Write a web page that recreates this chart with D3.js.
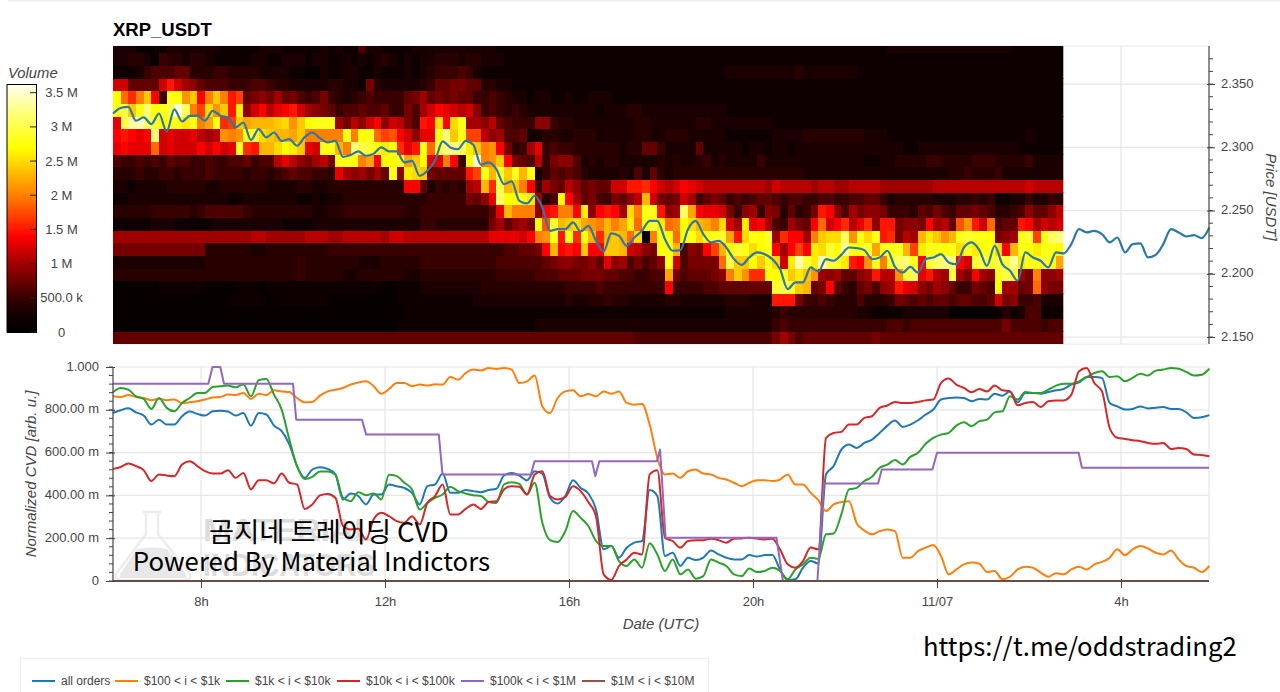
<!DOCTYPE html>
<html><head><meta charset="utf-8">
<script src="https://cdn.jsdelivr.net/npm/d3@7"></script>
<style>
html,body{margin:0;padding:0;background:#fff;overflow:hidden}
svg{display:block}
text{font-family:"Liberation Sans",Arial,sans-serif}
</style></head><body>
<svg id="c" width="1280" height="692"></svg>
<script>
// ---------- DATA ----------
const startHour = 6.087, endHour = 29.913, stepHours = 1 / 6;
const priceStep = 0.01, priceBase = 2.1445;
// volume per cell in units of 100 k, base-36 digit per 10-minute column; first entry = lowest price row
const volumeRows = [
"7777777777 7777777777 7777777777 7777777777 7777777777 7777777777 7777777766 6666666666 6666668a86 7777777778 7777777777 7777777777 7777",
"1111111111 1111111111 1111111111 1111111222 2222222222 2222233333 3333333333 3333333333 3333335655 5555555555 5665666666 6666668666 6566",
"1111111111 1111111111 1111111111 1111111122 2222222222 2222222222 2222222222 2222222222 3333334544 4444444332 2223333331 1111124236 6222",
"1111111111 1111122222 1222222211 1111111222 2222222333 3333333334 3344544333 3344333333 444333fff8 5565444644 4587676776 77667c8955 6333",
"1111112222 2211112221 2222222222 2222211222 3333333344 4444444445 5556555555 55e5555667 777777tuto n78e754786 9afdc98a97 55876raa78 j988",
"4444444444 4444444444 4444544444 3344444433 4444444444 5555566677 7888776655 66m8677789 kolggrrsoq ola9a779af bbltvdfbat a8ea9suta8 k99a",
"3333333333 3344444444 4444544444 4433344444 5555555555 6666667899 8897d9a686 79sc68888j uoorospcqy tqyutqfels ksvwsetvww ectusutxqs stsm",
"8888888888 8844444433 4444444455 5555555555 5555555555 566778enef eoeeooncb9 8rsn698ehn rtsprseaeh eqptrxsrtm sssnhqssrs psqrspensr qssr",
"aaaaaaaaaa aaaaaaaabb aaaaabbbaa bbbbbaccbb bbbbbbbbbd dddceklsfs gsngnonjp1 ksrjrsprst mfpsrtagee akoppvlsps fg8banqoln stssr89ast hsvw",
"2222233322 2223333333 3322223333 3333333333 5544444448 a79a8ritno pmlknkmqjr tqjkrpnmkp caqdea65a8 7ejcegbdg9 ff8998eab7 ilfcj677fe acbc",
"4444455555 4566666544 4444443344 5555555544 5555555557 dnkkk9efkk eq9efeapks sf9avmeddc 859a598474 58fe96a899 8555476865 7787644569 779b",
"2233333333 3333322333 3333223233 4444444444 455555879d vrrsqa46re a7865879bn c878ca5787 5656776566 5566556677 5344444333 4454522335 3354",
"3323333444 4433444444 3333443344 44444444ee 735454abng unoke5a87b 97877ccffg ecbcedcbbb bbbbbacbbb babbaabbbb aaaaaaabbb bbbbbbbbbc bbbb",
"4445445545 5565555455 456766554d a9a8a7s9qp o87777fhsn tosns35767 6433334363 7434444444 4444444444 3333333333 3333333334 4544453333 3333",
"6556565766 5565566756 6bdb98ab8s srkmerrsmo rddke5rzkl oe876b5899 6343443333 3434334534 3333533333 3333333322 3344445544 4455544445 3333",
"dedddjcdcc cececdsgfn nprqodcssn kwutrqrgdf sjtwwvqokl e845ad5655 4444443447 7533337333 3323323323 3333333333 3332233333 3333333322 2222",
"efedewcdcc dbablklstp onnmokkkkk skrsjhiec9 ddswoshhb9 a667234433 4443333344 3344433333 2222223333 4444444433 3222222222 2222222223 2222",
"duxyvtrssq skmsghomnn noplorsssa 8b9ce9cb86 fepepsaa9b 7655599544 3333333344 3333334433 3333332222 2222222222 2222222222 2222222222 2222",
"suoswrsuzv khplofq9ce bdefca9875 6676675586 acedcbc956 5454333333 3332333443 3333333333 2222222222 2222222222 2222222222 2222222222 2222",
"rjgkoe5srl oekokfh789 8a78656854 3456555578 a787877556 5433233223 2233322222 2222222222 2222222222 2222222222 2222222222 2222222222 2222",
"cc7777cfca 9766655566 5443333344 3328433333 4577887744 3322222222 2222222222 2222222222 2222222222 2222222222 2222222222 2222222222 2222",
"2223566677 4445544443 3332211322 3322322232 3455565322 2222222222 2222222222 2222222222 3333333334 3333333222 2222222222 2222222222 2222",
"3344315443 4432222233 2233323322 3232343232 3344434433 3222222222 2222222222 2222222222 2222222222 2222222222 2222222222 2222222222 2222",
"3331122333 3333222223 3322222323 2263322223 3333333333 2222222222 2222222222 2222222222 2222222222 2222222222 2333333333 3333333222 2222"
];
const priceValues = [
2.3267,2.331,2.332,2.321,2.3236,2.3183,2.3267,2.3125,2.33,2.3204,2.3249,2.325,2.321,2.3288,2.325,2.3236,2.3157,2.3196,2.3057,2.3144,
2.3078,2.3117,2.305,2.3065,2.3012,2.308,2.3117,2.3072,2.3038,2.305,2.2925,2.294,2.2967,2.2933,2.295,2.2999,2.2967,2.2967,2.288,2.2893,
2.2775,2.2815,2.2893,2.3046,2.2999,2.2985,2.3051,2.302,2.2862,2.288,2.2827,2.2709,2.273,2.2577,2.2556,2.2617,2.2524,2.234,2.2353,2.2353,
2.2406,2.2335,2.2379,2.2261,2.2177,2.2319,2.23,2.2221,2.2287,2.234,2.2419,2.2419,2.2274,2.2182,2.2187,2.2353,2.2419,2.2314,2.2248,2.2261,
2.2208,2.2116,2.2071,2.2129,2.2169,2.2155,2.2116,2.2037,2.1879,2.1932,2.1932,2.205,2.2018,2.2116,2.2103,2.215,2.2208,2.2203,2.2187,2.2116,
2.2129,2.2182,2.2055,2.201,2.2055,2.201,2.2116,2.2129,2.2155,2.209,2.2076,2.2208,2.2248,2.2187,2.2063,2.2221,2.2076,2.2024,2.1945,2.2169,
2.2129,2.2103,2.205,2.2169,2.2161,2.2235,2.2353,2.2327,2.234,2.2314,2.2248,2.2287,2.2169,2.2235,2.224,2.2129,2.215,2.2235,2.2353,2.2327,
2.2295,2.2306,2.2282,2.2366];
// normalized CVD in thousandths, one value per 10 minutes
const allOrders = [
785,798,807,788,773,731,754,731,731,770,792,781,773,793,795,792,773,785,725,785,778,726,700,638,537,482,521,532,524,498,381,409,397,358,404,404,451,443,435,412,358,443,
451,502,412,412,425,420,415,425,431,493,505,493,470,513,502,389,362,397,471,435,409,334,148,163,109,155,179,187,425,397,117,132,70,109,98,109,143,124,109,101,101,121,114,121,121,54,5,8,62,93,82,498,537,614,638,
622,645,661,692,726,750,720,731,751,778,801,848,855,858,855,840,851,848,875,866,886,835,879,879,875,883,891,897,918,928,953,953,949,832,816,801,804,816,806,810,813,804,804,788,762,765,775];
const tier100 = [
863,860,869,860,855,845,852,845,848,832,835,840,848,858,860,871,869,879,851,875,869,891,886,883,855,835,837,866,886,894,902,918,928,933,910,875,897,925,925,910,918,913,
919,918,953,941,972,988,984,995,991,995,988,925,933,960,816,785,855,886,891,863,874,863,886,875,886,832,824,827,731,575,498,502,482,513,521,502,498,482,474,459,443,459,471,471,467,474,498,451,451,412,378,327,358,369,373,
270,236,218,233,241,233,109,109,140,156,168,117,31,54,78,86,81,42,47,8,20,54,67,62,39,20,36,31,54,67,54,78,89,109,148,121,148,163,152,132,124,143,101,70,62,42,70];
const tier1k = [
882,902,894,863,851,804,855,809,793,832,855,879,879,907,910,913,905,918,863,938,944,871,801,661,537,477,487,512,512,498,389,373,415,401,409,381,496,490,459,428,334,365,
389,404,440,420,409,401,397,369,365,451,462,454,404,459,272,191,182,233,327,295,257,187,163,163,93,70,101,62,176,124,47,101,31,54,11,23,101,86,70,31,23,58,42,47,62,47,8,54,78,109,104,218,222,311,428,
435,467,487,529,544,565,544,580,599,641,669,684,692,726,742,723,747,754,788,793,863,848,883,879,879,894,913,922,922,933,953,972,980,953,957,933,949,969,960,983,988,995,992,977,960,964,992];
const tier10k = [
524,533,549,537,518,467,498,493,490,544,560,537,513,502,502,518,482,505,428,471,471,456,502,459,451,337,358,400,407,389,257,241,244,194,288,319,303,280,272,303,264,365,
397,451,311,311,337,358,337,369,373,428,443,440,404,498,513,397,381,393,443,420,369,303,31,5,70,101,132,124,498,518,202,187,156,187,191,191,198,191,179,198,199,202,198,194,198,148,78,62,93,156,148,669,692,697,731,
731,762,770,809,820,837,832,832,837,844,848,925,946,918,902,882,897,886,913,891,886,821,832,837,813,840,844,844,871,980,995,925,886,715,669,664,658,653,645,641,645,617,622,617,591,589,583];
// tier $100k-$1M moves in steps, so it keeps its own time stamps
const tier100kHours = [6.087,8.16,8.25,8.42,8.5,10,10.07,11.5,11.59,13.17,13.25,15.17,15.25,16.5,16.57,16.66,17.91,17.98,18.1,20.51,20.65,21.4,21.54,22.72,22.8,23.9,24,27.08,27.15,29.913];
const tier100kValues = [922,922,1000,1000,922,922,754,754,684,684,498,498,560,560,490,560,560,614,202,202,0,0,456,456,521,521,599,599,529,529];
const tier1MHours = [6.087,29.913];
const tier1MValues = [0,0];

const seriesNames = ["all orders","$100 < i < $1k","$1k < i < $10k","$10k < i < $100k","$100k < i < $1M","$1M < i < $10M"];
const seriesColors = ["#1f77b4","#ff7f0e","#2ca02c","#d62728","#9467bd","#8c564b"];
const timeTicks = [8,12,16,20,24,28];
const timeTickLabels = ["8h","12h","16h","20h","11/07","4h"];
const priceTicks = [2.15,2.2,2.25,2.3,2.35];
const priceMinorTicks = d3.range(2.15,2.38,0.01);
const cvdTicks = [0,200,400,600,800,1000];
const cvdTickLabels = ["0","200.00 m","400.00 m","600.00 m","800.00 m","1.000"];
const cvdMinorTicks = d3.range(0,1001,40);
const volumeTicks = [0,.5,1,1.5,2,2.5,3,3.5];
const volumeTickLabels = ["0","500.0 k","1 M","1.5 M","2 M","2.5 M","3 M","3.5 M"];

// ---------- LAYOUT ----------
const svg = d3.select("#c");
const L = 113, R = 1209, T1 = 46, B1 = 344, T2 = 367, B2 = 581;
const x = d3.scaleLinear().domain([startHour,endHour]).range([L,R]);
const yP = d3.scaleLinear().domain([priceBase, priceBase + 298/1265]).range([B1,T1]);
const yC = d3.scaleLinear().domain([0,1000]).range([B2,T2]);
const yV = d3.scaleLinear().domain([0,3.62]).range([332,84.5]);
const heat = d3.scaleLinear().domain([0,.25,.5,1,1.4,2,2.7,3.1,3.62])
  .range(["#000000","#120000","#380000","#a00000","#ff0000","#ff8000","#ffff00","#ffff60","#fffff0"]).clamp(true);
const gridCol = "#e6e6e6", axisCol = "#444", textCol = "#444";

svg.append("rect").attr("x",8).attr("y",0).attr("width",1272).attr("height",1.5).attr("fill","#eeeeee");

const defs = svg.append("defs");
defs.append("clipPath").attr("id","top").append("rect").attr("x",L).attr("y",T1).attr("width",950.3).attr("height",B1-T1);

svg.append("text").attr("x",L).attr("y",36).attr("font-size",18.5).attr("font-weight","bold").attr("fill","#000").text("XRP_USDT");

const g1 = svg.append("g");
g1.selectAll("line.v").data(timeTicks).join("line").attr("class","v").attr("x1",d=>x(d)).attr("x2",d=>x(d)).attr("y1",T1).attr("y2",B1).attr("stroke",gridCol).attr("stroke-width",1.2);
g1.selectAll("line.h").data(priceTicks).join("line").attr("class","h").attr("x1",L).attr("x2",R).attr("y1",d=>yP(d)).attr("y2",d=>yP(d)).attr("stroke",gridCol).attr("stroke-width",1.2);
g1.selectAll("line.e").data([T1,B1]).join("line").attr("class","e").attr("x1",L).attr("x2",R).attr("y1",d=>d).attr("y2",d=>d).attr("stroke",gridCol);

// heatmap
const heatG = svg.append("g").attr("clip-path","url(#top)").attr("shape-rendering","crispEdges");
volumeRows.forEach((row,r)=>{
  const levels = row.replace(/ /g,"").split("").map(ch=>parseInt(ch,36)/10);
  heatG.append("g").selectAll("rect").data(levels).join("rect")
    .attr("x",(d,c)=>x(startHour+c*stepHours))
    .attr("width",(d,c)=>x(startHour+(c+1)*stepHours)-x(startHour+c*stepHours)+.4)
    .attr("y",yP(priceBase+(r+1)*priceStep))
    .attr("height",yP(priceBase+r*priceStep)-yP(priceBase+(r+1)*priceStep)+.4)
    .attr("fill",d=>heat(d));
});

// price line
const lineOf = (ys)=>d3.line().x((d,i)=>x(startHour+i*stepHours)).y(d=>ys(d)).curve(d3.curveMonotoneX);
svg.append("path").datum(priceValues).attr("d",lineOf(yP)).attr("fill","none").attr("stroke","#2a78a8").attr("stroke-width",2.2).attr("stroke-linejoin","round");

// price axis
const aP = svg.append("g").attr("transform",`translate(${R},0)`).call(d3.axisRight(yP).tickValues(priceTicks).tickFormat(d3.format(".3f")).tickSize(6).tickSizeOuter(0));
aP.select(".domain").attr("stroke",axisCol).attr("stroke-width",1.2).attr("d",`M0,${T1}V${B1}`);
aP.selectAll(".tick line").attr("x1",-2).attr("x2",6).attr("stroke",axisCol);
aP.selectAll(".tick text").attr("x",12).attr("y",-1).attr("font-size",13).attr("font-family",null).attr("fill",textCol);
svg.append("g").attr("transform",`translate(${R},0)`).selectAll("line").data(priceMinorTicks).join("line")
  .attr("x1",0).attr("x2",4).attr("y1",d=>yP(d)).attr("y2",d=>yP(d)).attr("stroke",axisCol);
svg.append("text").attr("transform","translate(1266,197) rotate(90)").attr("text-anchor","middle").attr("font-size",15).attr("font-style","italic").attr("fill",textCol).text("Price [USDT]");

// color bar
const volStops = d3.range(0,3.62,0.01);
svg.append("g").attr("shape-rendering","crispEdges").selectAll("rect").data(volStops).join("rect")
  .attr("x",7).attr("width",29.5).attr("y",d=>yV(d+0.01)).attr("height",d=>yV(d)-yV(d+0.01)+.5).attr("fill",d=>heat(d));
svg.append("rect").attr("x",7).attr("y",84.5).attr("width",29.5).attr("height",247.5).attr("fill","none").attr("stroke","#000").attr("stroke-width",1);
const aV = svg.append("g");
aV.selectAll("line").data(volumeTicks).join("line").attr("x1",30).attr("x2",36.5).attr("y1",d=>yV(d)).attr("y2",d=>yV(d)).attr("stroke","#222");
aV.selectAll("text").data(volumeTicks).join("text").attr("x",61.5).attr("y",d=>yV(d)).attr("dy","0.35em").attr("text-anchor","middle")
  .attr("font-size",13).attr("fill",textCol).text((d,i)=>volumeTickLabels[i]);
svg.append("text").attr("x",8).attr("y",78).attr("font-size",14.8).attr("font-style","italic").attr("fill",textCol).text("Volume");

// ---------- CVD PANEL ----------
const g2 = svg.append("g");
// watermark behind the lines
const wm = g2.append("g").attr("fill","#dcdcdc");
wm.append("path").attr("d","M143,512H161M146,512V534L116,574Q114,580 122,580H184Q192,580 190,574L158,534V512").attr("fill","none").attr("stroke","#ececec").attr("stroke-width",2.5);
wm.append("path").attr("d","M137,549Q152,546 167,549L186,574Q188,578 184,578H122Q118,578 120,574Z").attr("fill","#e8e8e8");
wm.append("text").attr("x",203).attr("y",541).attr("font-size",32).attr("font-weight","bold").attr("textLength",172).attr("lengthAdjust","spacingAndGlyphs").text("MATERIAL");
wm.append("text").attr("x",203).attr("y",576).attr("font-size",32).attr("font-weight","bold").attr("textLength",172).attr("lengthAdjust","spacingAndGlyphs").text("INDICATORS");

g2.selectAll("line.v").data(timeTicks).join("line").attr("class","v").attr("x1",d=>x(d)).attr("x2",d=>x(d)).attr("y1",T2).attr("y2",B2).attr("stroke",gridCol).attr("stroke-width",1.2);
g2.selectAll("line.h").data(cvdTicks).join("line").attr("class","h").attr("x1",L).attr("x2",R).attr("y1",d=>yC(d)).attr("y2",d=>yC(d)).attr("stroke",gridCol).attr("stroke-width",1.2);
g2.append("line").attr("x1",R).attr("x2",R).attr("y1",T2).attr("y2",B2).attr("stroke",gridCol).attr("stroke-width",1.2);

const uniform = [allOrders,tier100,tier1k,tier10k];
const lineG = svg.append("g").attr("fill","none").attr("stroke-width",2).attr("stroke-linejoin","round");
uniform.forEach((v,i)=>lineG.append("path").datum(v).attr("d",lineOf(yC)).attr("stroke",seriesColors[i]));
const pairLine = (hs,vs,col)=>lineG.append("path").datum(vs).attr("d",d3.line().x((d,i)=>x(hs[i])).y(d=>yC(d))).attr("stroke",col);
pairLine(tier100kHours,tier100kValues,seriesColors[4]);
pairLine(tier1MHours,tier1MValues,seriesColors[5]);

// axes
const aC = svg.append("g").attr("transform",`translate(${L},0)`).call(d3.axisLeft(yC).tickValues(cvdTicks).tickFormat((d,i)=>cvdTickLabels[i]).tickSize(7).tickSizeOuter(0));
aC.select(".domain").attr("stroke",axisCol).attr("stroke-width",1.2).attr("d",`M0,${T2}V${B2}`);
aC.selectAll(".tick line").attr("x1",2).attr("x2",-7).attr("stroke",axisCol);
aC.selectAll(".tick text").attr("x",-14).attr("y",-1).attr("font-size",13).attr("font-family",null).attr("fill",textCol);
svg.append("g").attr("transform",`translate(${L},0)`).selectAll("line").data(cvdMinorTicks).join("line")
  .attr("x1",-4).attr("x2",0).attr("y1",d=>yC(d)).attr("y2",d=>yC(d)).attr("stroke",axisCol);
const aT = svg.append("g").attr("transform",`translate(0,${B2})`).call(d3.axisBottom(x).tickValues(timeTicks).tickFormat((d,i)=>timeTickLabels[i]).tickSize(7).tickSizeOuter(0));
aT.select(".domain").attr("stroke",axisCol).attr("stroke-width",1.2).attr("d",`M${L},0H${R}`);
aT.selectAll(".tick line").attr("y1",-2).attr("y2",7).attr("stroke",axisCol);
aT.selectAll(".tick text").attr("y",16).attr("font-size",13).attr("font-family",null).attr("fill",textCol);
svg.append("text").attr("x",661).attr("y",629).attr("text-anchor","middle").attr("font-size",15).attr("font-style","italic").attr("fill",textCol).text("Date (UTC)");
svg.append("text").attr("transform","translate(36,474) rotate(-90)").attr("text-anchor","middle").attr("font-size",15).attr("font-style","italic").attr("fill",textCol).text("Normalized CVD [arb. u.]");

// overlay captions
const cap = svg.append("g").attr("fill","#000");
cap.append("text").attr("x",329).attr("y",542).attr("font-size",27.3).attr("text-anchor","middle").style("font-family",'"Noto Sans CJK KR"').text("곰지네 트레이딩 CVD");
cap.append("text").attr("x",311.5).attr("y",571).attr("font-size",25.8).attr("text-anchor","middle").style("font-family",'"Noto Sans CJK KR"').text("Powered By Material Indictors");
cap.append("text").attr("x",923).attr("y",656).attr("font-size",25.7).style("font-family",'"Noto Sans CJK KR"').text("https://t.me/oddstrading2");

// legend
const legendStarts = [32,115,226,337,461,582];
svg.append("rect").attr("x",20.5).attr("y",658.5).attr("width",688).attr("height",40).attr("fill","none").attr("stroke","#efefef");
const lg = svg.append("g").selectAll("g").data(seriesNames).join("g").attr("transform",(d,i)=>`translate(${legendStarts[i]},681)`);
lg.append("line").attr("x1",0).attr("x2",23).attr("stroke",(d,i)=>seriesColors[i]).attr("stroke-width",2);
lg.append("text").attr("x",29).attr("dy","0.35em").attr("font-size",12).attr("fill",textCol).text(d=>d);
</script>
</body></html>
